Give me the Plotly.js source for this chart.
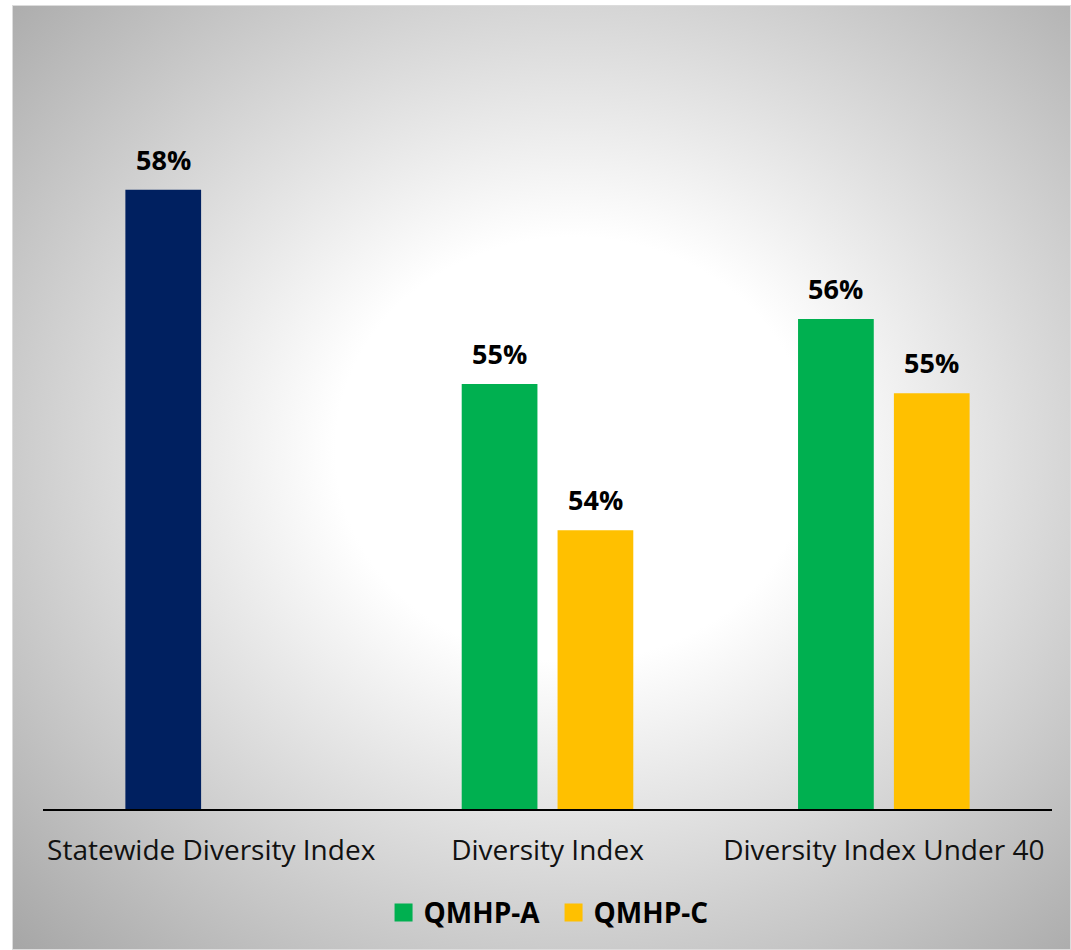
<!DOCTYPE html>
<html>
<head>
<meta charset="utf-8">
<script src="https://cdn.plot.ly/plotly-3.0.1.min.js"></script>
<style>
  html, body { margin: 0; padding: 0; background: #ffffff; }
  #bg {
    position: absolute; left: 12px; top: 5px; width: 1057px; height: 943px;
    border: 1px solid #dcdcdc;
    background: radial-gradient(ellipse farthest-corner at 53% 47%, #ffffff 0%, #ffffff 30%, #a6a6a6 100%);
  }
  #chart { position: absolute; left: 0; top: 0; width: 1071px; height: 950px; }
</style>
</head>
<body>
<div id="bg"></div>
<div id="chart"></div>
<script>
const categories = ["Statewide Diversity Index", "Diversity Index", "Diversity Index Under 40"];
const statewideValues = [0.580, null, null];
const qmhpAValues = [null, 0.5549, 0.5633];
const qmhpCValues = [null, 0.5360, 0.5537];
const seriesNames = ["QMHP-A", "QMHP-C"];
const colors = { statewide: "#002060", a: "#00B050", c: "#FFC000" };

const FONT = "Open Sans, sans-serif";

const traces = [
  { type: "bar", x: categories, y: statewideValues, name: "Statewide", showlegend: false,
    offsetgroup: "A", marker: { color: colors.statewide }, hoverinfo: "skip" },
  { type: "bar", x: categories, y: qmhpAValues, name: seriesNames[0],
    offsetgroup: "A", marker: { color: colors.a } },
  { type: "bar", x: categories, y: qmhpCValues, name: seriesNames[1],
    offsetgroup: "C", marker: { color: colors.c } }
];

const SLOT = 48;
const annotations = [];
function addLabels(vals, shift) {
  vals.forEach((v, i) => {
    if (v === null) return;
    annotations.push({
      x: categories[i], y: v, xref: "x", yref: "y", xshift: shift, yshift: 10,
      yanchor: "bottom", showarrow: false,
      text: "<b>" + Math.round(v * 100) + "%</b>",
      font: { family: FONT, size: 27, color: "#000000" }
    });
  });
}
addLabels(statewideValues, -SLOT);
addLabels(qmhpAValues, -SLOT);
addLabels(qmhpCValues, SLOT);

const layout = {
  width: 1071, height: 950,
  margin: { l: 43, r: 19, t: 35, b: 141 },
  paper_bgcolor: "rgba(0,0,0,0)", plot_bgcolor: "rgba(0,0,0,0)",
  barmode: "group", bargap: 0.43, bargroupgap: 0.21,
  font: { family: FONT, color: "#000000" },
  xaxis: {
    type: "category", showline: true, linecolor: "#000000", linewidth: 2,
    ticks: "", showgrid: false, zeroline: false,
    tickfont: { family: FONT, size: 28, color: "#111111" },
    ticklabelstandoff: 15
  },
  yaxis: { range: [0.5, 0.6], visible: false, showgrid: false, zeroline: false },
  showlegend: true,
  legend: {
    orientation: "h", x: 0.506, xanchor: "center", y: -0.134, yanchor: "middle",
    font: { family: FONT, size: 28, color: "#000000", weight: "bold" },
    entrywidth: 125,
    bgcolor: "rgba(0,0,0,0)"
  },
  annotations: annotations
};

Plotly.newPlot("chart", traces, layout, { displayModeBar: false, staticPlot: true }).then(() => {
  document.querySelectorAll("#chart .legendpoints path").forEach(p => {
    const d = p.getAttribute("d") || "";
    if (/^M6,6H-6V-6H6Z$/.test(d)) p.setAttribute("d", "M9,9H-9V-9H9Z");
  });
});
</script>
</body>
</html>
